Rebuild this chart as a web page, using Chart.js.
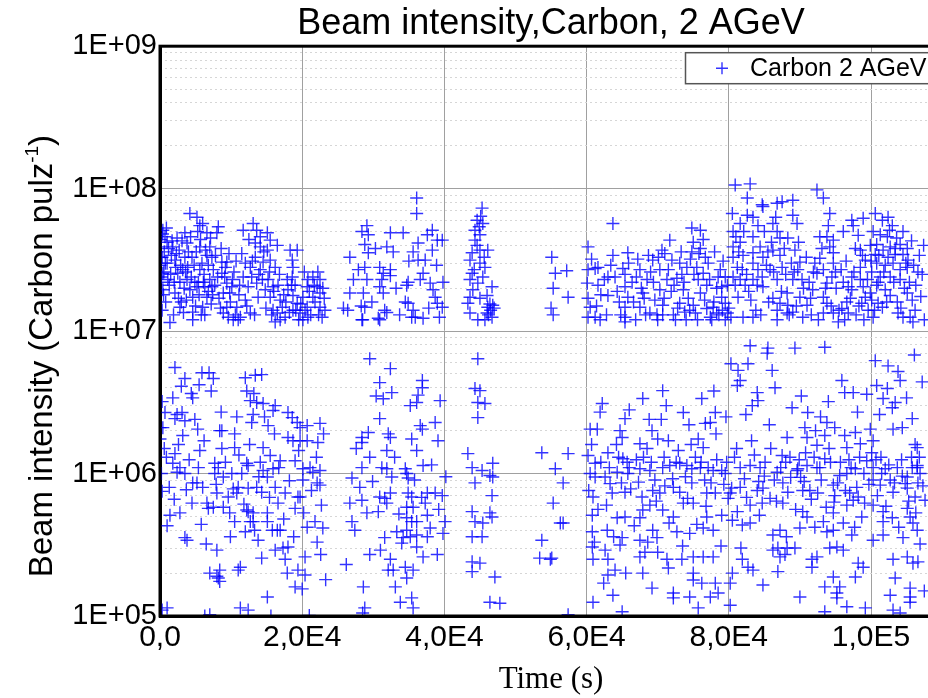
<!DOCTYPE html>
<html lang="en">
<head>
<meta charset="UTF-8">
<title>Beam intensity,Carbon, 2 AGeV</title>
<script src="https://cdn.jsdelivr.net/npm/chart.js"></script>
<style>
  html, body { margin: 0; padding: 0; background: #fff; overflow: hidden; }
  #wrap { width: 950px; height: 698px; }
</style>
</head>
<body>
<div id="wrap"><canvas id="beamChart" width="950" height="698"></canvas></div>
<script>
// axis ticks
const xTickValues = [0, 20000, 40000, 60000, 80000, 100000];
const xTickLabels = ['0,0', '2,0E4', '4,0E4', '6,0E4', '8,0E4', '1,0E5'];
const yTickValues = [1e5, 1e6, 1e7, 1e8, 1e9];
const yTickLabels = ['1E+05', '1E+06', '1E+07', '1E+08', '1E+09'];

// [time (s), intensity (Carbon / pulse)], one array per run
const run1Upper = [
  [400,5.1e7],[700,4.6e7],[1000,4.2e7],[300,3.3e7],[1000,3.0e7],[400,2.55e7],[1100,2.3e7],[400,1.95e7],[300,1.4e7],[1400,1.15e7],
  [1800,3.9e7],[2400,4.5e7],[2100,3.15e7],[2500,2.55e7],[2800,2.2e7],[2100,1.85e7],[2800,1.47e7],[3500,4.9e7],[3800,4.15e7],[3500,3.3e7],
  [3200,2.7e7],[3800,2.3e7],[4200,1.95e7],[4600,1.73e7],[4600,1.2e7],[4200,6.7e7],[5200,6.3e7],[5600,5.5e7],[6000,5.7e7],[5300,5.0e7],
  [6600,4.9e7],[8200,5.4e7],[8000,4.9e7],[5600,3.9e7],[6600,3.4e7],[7000,3.9e7],[7300,3.3e7],[5900,3.0e7],[5600,2.7e7],[7000,2.3e7],
  [6300,2.05e7],[5200,2.05e7],[6600,1.73e7],[6000,1.47e7],[6300,1.3e7],[4600,1.36e7],[7300,2.05e7],[7500,2.7e7],[8700,3.05e7],[9400,3.05e7],
  [8700,2.55e7],[9400,2.17e7],[8900,1.85e7],[9800,1.85e7],[10100,2.05e7],[9400,1.47e7],[8900,1.34e7],[9600,1.25e7],[10300,1.2e7],[11000,1.2e7],
  [11300,1.25e7],[10800,1.47e7],[11700,5.1e7],[12000,3.0e7],[12700,2.8e7],[11700,2.4e7],[12400,2.05e7],[12000,1.65e7],[12700,1.34e7],[13100,5.7e7],
  [13600,5.1e7],[14100,4.6e7],[13400,4.15e7],[14100,3.9e7],[13400,3.3e7],[14500,3.05e7],[14100,2.7e7],[13600,2.17e7],[13800,1.73e7],[14800,1.95e7],
  [15100,4.9e7],[15500,4.35e7],[15100,3.7e7],[15500,3.15e7],[16200,2.8e7],[16500,4.0e7],[15200,2.3e7],[15900,2.05e7],[15500,1.73e7],[15900,1.4e7],
  [16500,1.34e7],[16900,1.65e7],[17200,1.47e7],[17600,1.25e7],[16900,1.2e7],[16200,1.16e7],[18300,3.7e7],[19300,3.7e7],[18600,3.15e7],[18700,2.8e7],
  [18600,2.4e7],[17900,2.3e7],[18000,1.95e7],[18700,1.78e7],[19300,1.57e7],[18700,1.4e7],[19700,1.34e7],[20100,1.2e7],[20700,1.47e7],[20100,1.73e7],
  [20700,2.05e7],[20800,2.3e7],[21500,2.4e7],[22200,2.6e7],[22500,2.3e7],[22100,2.05e7],[22500,1.85e7],[21500,1.73e7],[22500,1.47e7],[20800,1.25e7],
  [200,2.4e7],[600,3.6e7],[800,1.6e7],[1300,2.1e7],[1600,3.4e7],[1900,1.3e7],[2200,2.8e7],[2700,3.7e7],[3000,1.6e7],[3300,1.35e7],
  [3600,2.6e7],[4000,3.6e7],[4400,2.4e7],[4800,2.9e7],[5000,1.5e7],[5400,2.2e7],[5800,1.3e7],[6200,2.5e7],[6800,1.9e7],[7200,1.55e7],
  [7700,2.1e7],[8300,1.7e7],[8600,3.8e7],[9100,2.4e7],[9900,1.6e7],[10400,2.6e7],[10600,1.3e7],[11100,1.8e7],[11500,3.5e7],[12200,1.5e7],
  [12900,2.4e7],[13300,1.3e7],[14400,2.3e7],[14900,1.45e7],[15700,1.3e7],[16600,2.1e7],[17400,1.8e7],[18200,1.35e7],[19000,2.1e7],[19500,1.2e7],
  [20400,1.4e7],[21200,1.3e7],[21800,1.6e7],[22800,1.25e7],[23100,1.7e7],[0,3.9e7],[0,2.9e7],[100,2.2e7],[100,4.4e7],[500,1.8e7],
  [150,3.3e7],[350,4.8e7],[550,2.6e7],[750,3.0e7],[900,5.3e7],[1200,3.8e7],[1500,2.5e7],[1700,4.3e7],[2000,2.2e7],[2300,3.5e7],
  [2600,1.7e7],[2900,2.9e7],[3100,4.3e7],[3400,2.0e7],[3700,1.65e7],[3900,2.8e7],[4300,4.6e7],[4500,3.3e7],[4900,2.2e7],[5100,3.6e7],
  [5500,1.8e7],[5700,4.4e7],[6100,2.2e7],[6400,3.7e7],[6800,2.9e7],[7100,4.5e7],[7400,1.8e7],[7800,3.4e7],[8100,2.4e7],[8500,1.45e7],
  [9200,2.8e7],[9700,3.5e7],[10200,2.3e7],[10700,3.1e7],[11200,2.1e7],[12500,4.4e7],[13000,3.1e7],[13900,2.5e7],[14600,3.6e7],[15400,2.6e7],
  [16000,1.9e7],[16800,2.5e7],[17700,1.6e7],[18500,2.1e7],[19100,1.4e7],[19800,1.55e7],[20300,2.6e7],[21000,1.9e7],[21700,2.1e7],[22300,1.3e7],
  [22900,2.0e7],[23200,1.4e7]
];
const run1Lower = [
  [2100,5.55e6],[3500,4.65e6],[5900,5.1e6],[6900,5.1e6],[7500,4.65e6],[5500,4.2e6],[4400,3.65e6],[4600,3.4e6],[1800,3.4e6],[12000,4.7e6],
  [13400,4.9e6],[14300,4.95e6],[12200,3.8e6],[13200,3.65e6],[13600,3.15e6],[12700,3.25e6],[14500,3.1e6],[16200,3.0e6],[15900,2.77e6],[18000,2.68e6],
  [18600,2.47e6],[19300,2.28e6],[19700,2.1e6],[20700,2.17e6],[22500,2.25e6],[700,2.68e6],[2400,2.6e6],[3100,2.68e6],[2100,2.43e6],[3500,2.35e6],
  [400,2.1e6],[5300,2.05e6],[8700,2.0e6],[10500,1.9e6],[10800,2.5e6],[13100,2.6e6],[12900,2.28e6],[15200,2.17e6],[18000,1.79e6],[19700,1.7e6],
  [20700,1.7e6],[22200,1.65e6],[18700,1.7e6],[14500,1.52e6],[10500,1.52e6],[8700,1.5e6],[8400,2.0e6],[5600,1.45e6],[3200,1.85e6],[2100,1.38e6],
  [1800,1.18e6],[2800,1.1e6],[3500,1.0e6],[2400,1.02e6],[4600,8.6e5],[5200,8.6e5],[6000,8.0e5],[7700,1.18e6],[8200,1.1e6],[7700,1.0e6],
  [8900,9.45e5],[10100,1.0e6],[11500,1.0e6],[12200,1.18e6],[10800,7.3e5],[11000,8.0e5],[12400,7.9e5],[8000,7.3e5],[9600,6.85e5],[8900,5.8e5],
  [9800,5.3e5],[7500,5.8e5],[6800,5.7e5],[1400,5.1e5],[2800,5.3e5],[4500,6.2e5],[6600,6.2e5],[12200,5.55e5],[12400,5.4e5],[13100,5.3e5],
  [12700,4.6e5],[13100,4.6e5],[15100,5.3e5],[15100,4.6e5],[15800,4.0e5],[16500,4.0e5],[16900,4.0e5],[12000,3.9e5],[10500,4.6e5],[14500,1.05e6],
  [15900,1.08e6],[16200,8.0e5],[16600,6.2e5],[17600,7.3e5],[19400,6.85e5],[19000,5.7e5],[15500,1.34e6],[14100,1.2e6],[12400,1.14e6],[3800,3.4e5],
  [3500,3.55e5],[8000,2.9e5],[13800,3.4e5],[14300,2.55e5],[16200,2.9e5],[17300,3.0e5],[18000,3.05e5],[17600,2.5e5],[17900,2.0e5],[19400,2.1e5],
  [20400,1.94e5],[19000,1.6e5],[15100,1.36e5],[7000,2.0e5],[8400,2.1e5],[8200,1.85e5],[11000,2.1e5],[11300,2.2e5],[1000,1.14e5],[11300,1.14e5],
  [12400,1.1e5],[20400,2.6e5],[20700,4.2e5],[21800,4.6e5],[22100,3.3e5],[22900,4.15e5],[20100,1.08e6],[21100,1.1e6],[21500,1.02e6],[22500,1.05e6],
  [22100,8.6e5],[22500,8.3e5],[20100,9.0e5],[19700,6.85e5],[19000,1.23e6],[16900,1.23e6],[15100,9.45e5],[14300,7.4e5],[13600,8.0e5],[0,2.1e6],
  [200,1.0e6],[0,1.75e6],[300,1.1e5],[6300,1.0e5],[7000,1.02e5],[15600,1.0e5],[21000,1.01e5],[23300,1.8e5],[22600,2.7e5],[8000,1.9e5],
  [8400,1.75e5],[20000,1.55e5],[300,7.5e5],[1000,4.3e5],[600,1.5e6],
  [300,3.2e6],[900,1.3e6],[1300,8.0e5],[2000,6.6e5],[2600,1.6e6],[3000,4.1e6],[3700,7.7e5],[4100,1.25e6],[4900,2.4e6],[5400,1.1e6],
  [5800,4.4e5],[6200,1.7e6],[6500,3.2e5],[7200,3.8e6],[7900,8.4e5],[8600,2.7e6],[9200,1.2e6],[9900,3.6e5],[10300,7.8e5],[11100,1.35e6],
  [11800,6.1e5],[12600,1.6e6],[13300,4.0e5],[13900,9.5e5],[14700,2.5e6],[15400,6.8e5],[16100,1.9e6],[16700,1.1e6],[17400,4.8e5],[18200,8.9e5],
  [18800,3.6e5],[19500,1.45e6],[20200,5.3e5],[21300,7.6e5],[22000,1.3e6],[22700,6.0e5],[23000,1.9e6]
];
const run2Upper = [
  [26700,3.3e7],[26700,1.85e7],[26400,1.4e7],[28400,5.0e7],[29100,5.5e7],[29300,4.75e7],[28800,4.05e7],[29300,3.55e7],[28800,2.8e7],[29100,2.3e7],
  [28600,1.85e7],[28800,1.47e7],[28400,1.2e7],[30900,2.8e7],[31400,2.55e7],[31200,2.3e7],[30900,2.05e7],[31400,1.85e7],[31600,1.4e7],[30900,1.2e7],
  [32400,4.9e7],[31900,3.9e7],[32800,3.6e7],[32400,2.7e7],[34200,4.9e7],[34700,2.1e7],[34900,1.57e7],[35600,1.4e7],[35400,1.25e7],[36100,8.6e7],
  [36100,6.7e7],[36300,4.15e7],[35600,3.6e7],[36300,3.15e7],[37300,3.15e7],[37000,2.55e7],[38300,5.1e7],[37600,4.75e7],[38300,3.7e7],[39000,4.35e7],
  [39700,4.35e7],[38000,2.17e7],[39800,2.2e7],[38400,1.95e7],[38700,1.73e7],[39000,1.57e7],[39700,1.47e7],[37000,1.23e7],[36600,2.3e7],[25800,1.45e7],
  [28300,1.5e7],[28500,1.2e7],[30700,1.23e7],[31900,1.35e7],[34500,1.6e7],[34900,2.2e7],[35900,1.25e7],[32400,2.45e7],
  [27200,2.3e7],[29800,1.6e7],[30300,3.8e7],[33200,2.0e7],[33700,1.3e7],[35000,3.1e7],[37800,1.45e7],[38900,2.9e7],[39300,1.25e7],[27900,2.7e7]
];
const run2Lower = [
  [29500,6.4e6],[32400,5.45e6],[30900,4.35e6],[32600,3.7e6],[31400,3.35e6],[36900,4.5e6],[36900,4.0e6],[36300,3.55e6],[36100,3.15e6],[35200,3.0e6],
  [39400,3.25e6],[30900,2.43e6],[29300,1.94e6],[28400,1.79e6],[28400,1.65e6],[32100,1.9e6],[32400,1.79e6],[36600,2.17e6],[36900,2.05e6],[35400,1.75e6],
  [38700,2.28e6],[39100,1.7e6],[31900,1.45e6],[36100,1.45e6],[29500,1.3e6],[28400,1.1e6],[31200,1.1e6],[31900,1.08e6],[34500,1.08e6],[37000,1.14e6],
  [34700,1.0e6],[34900,9.3e5],[32600,9.45e5],[27000,9.3e5],[28100,8.0e5],[30900,6.85e5],[31600,6.7e5],[32400,7.3e5],[34900,7.3e5],[35400,6.85e5],
  [37600,7.3e5],[38700,7.3e5],[39700,7.0e5],[28400,6.5e5],[26700,6.2e5],[29100,5.3e5],[30700,5.4e5],[31900,6.2e5],[34700,5.8e5],[35600,5.8e5],
  [37300,6.2e5],[37600,5.1e5],[34700,4.9e5],[35400,4.6e5],[36100,4.6e5],[27000,4.6e5],[27400,4.0e5],[34700,4.0e5],[38000,4.15e5],[39800,3.8e5],
  [31600,3.55e5],[33300,3.9e5],[34200,3.55e5],[35200,3.6e5],[36100,3.7e5],[37600,3.6e5],[34000,3.25e5],[36100,3.05e5],[29500,2.7e5],[32400,2.5e5],
  [32100,2.1e5],[32800,2.1e5],[34500,2.2e5],[35600,2.1e5],[34700,1.85e5],[33100,1.6e5],[28600,1.6e5],[35400,1.34e5],[35600,1.14e5],[28800,1.14e5],
  [28500,1.05e5],[26200,2.3e5],[33800,1.25e5],[39000,2.7e5],[40100,4.6e5],
  [27600,1.5e6],[29900,8.8e5],[30400,3.5e6],[33000,1.3e6],[33600,5.2e5],[35800,9.0e5],[36800,6.8e5],[38200,1.15e6],[39200,5.6e5],[40200,9.5e5],
  [31000,2.9e5],[37000,2.6e5]
];
const run3Upper = [
  [45300,7.3e7],[44600,6.0e7],[45400,5.7e7],[44300,5.1e7],[45000,4.75e7],[44300,4.35e7],[44600,4.0e7],[45000,3.7e7],[43900,3.55e7],[46100,3.7e7],
  [43600,3.15e7],[45000,3.0e7],[45700,2.8e7],[43900,2.55e7],[45400,2.4e7],[43600,2.3e7],[44700,2.17e7],[46700,2.05e7],[44000,1.95e7],[43600,1.73e7],
  [45000,1.7e7],[46000,1.78e7],[43300,1.57e7],[46100,1.47e7],[46800,1.52e7],[43600,1.34e7],[46000,1.34e7],[46700,1.25e7],[44700,1.2e7],[45700,1.2e7],
  [45100,6.4e7],[44900,5.4e7],[46400,1.55e7],[47000,1.45e7],[46200,1.3e7],[46500,1.4e7],[44200,2.7e7],[45600,3.3e7]
];
const run3Lower = [
  [44700,6.4e6],[44300,3.95e6],[45000,3.82e6],[44700,3.15e6],[45700,3.1e6],[44700,2.47e6],[43300,1.38e6],[43900,1.1e6],[45300,1.05e6],[46800,1.18e6],
  [46400,9.7e5],[46800,9.45e5],[44300,8.6e5],[46700,7.0e5],[43900,5.4e5],[44300,4.6e5],[46400,5.3e5],[46700,4.95e5],[45400,4.5e5],[43900,3.6e5],
  [45300,3.6e5],[43900,2.4e5],[45000,2.35e5],[43900,2.05e5],[47100,1.88e5],[46400,1.25e5],[47800,1.23e5]
];
const run5 = [
  [55100,3.3e7],[55600,2.55e7],[57200,2.65e7],[55300,2.0e7],[57400,1.73e7],[55300,1.3e7],[55000,1.45e7],
  [53700,1.4e6],[55600,1.08e6],[55300,6.2e5],[53700,3.4e5],[53400,2.55e5],[55100,2.55e5],[56300,4.5e5],[57400,1.38e6],[56700,8.6e5],
  [56700,4.5e5],[54900,2.5e5],[57400,1.02e5]
];
const run6Upper = [
  [60200,3.9e7],[60200,2.7e7],[61200,2.75e7],[61600,2.8e7],[60100,2.17e7],[61600,2.1e7],[63000,2.4e7],[63000,1.78e7],[60200,1.7e7],[60500,1.47e7],
  [60200,1.25e7],[61200,1.25e7],[63700,5.7e7],[63700,3.4e7],[65800,3.55e7],[65100,2.75e7],[65400,2.5e7],[65400,2.05e7],[65800,1.73e7],[65400,1.47e7],
  [65400,1.25e7],[65400,1.16e7],[67500,2.7e7],[68500,2.3e7],[67900,1.85e7],[67500,1.47e7],[68900,1.34e7],[69300,3.15e7],[70600,3.7e7],[71700,4.35e7],
  [72000,3.15e7],[70300,2.7e7],[71300,2.3e7],[70300,1.95e7],[69600,1.65e7],[70700,1.52e7],[69900,1.3e7],[70700,1.3e7],[72200,1.3e7],[73100,3.0e7],
  [74100,2.8e7],[72700,2.35e7],[73600,1.95e7],[73100,1.57e7],[73800,1.36e7],[74800,5.3e7],[76000,5.1e7],[75000,4.2e7],[74800,3.6e7],[76000,3.8e7],
  [76700,3.3e7],[77100,3.0e7],[75500,2.8e7],[76400,2.55e7],[75700,2.3e7],[76900,2.1e7],[76000,1.85e7],[75000,1.52e7],[74500,1.4e7],[75300,1.34e7],
  [76900,1.44e7],[77800,1.47e7],[78300,1.34e7],[77400,1.25e7],[78300,2.0e7],[79000,2.05e7],[79500,2.4e7],[78800,2.7e7],[79000,1.73e7],[79500,1.57e7],
  [79800,1.34e7],[79500,1.2e7],[80500,6.7e7],[80600,5.0e7],[81600,5.7e7],[80600,3.9e7],[81600,4.2e7],[80600,3.3e7],[81200,2.8e7],[81900,2.7e7],
  [80600,2.4e7],[81600,2.3e7],[80900,2.1e7],[82300,2.1e7],[81300,1.73e7],[82000,1.25e7],[83400,1.25e7],[80900,1.06e8],[83000,1.08e8],[82600,8.6e7],
  [84700,7.7e7],[82600,6.5e7],[83400,6.3e7],[84100,5.5e7],[83400,4.6e7],[84400,3.9e7],[83400,3.55e7],[84800,3.3e7],[83400,3.0e7],[84100,2.7e7],
  [83400,2.3e7],[84700,2.4e7],[84800,2.05e7],[84800,7.5e7],[86800,7.9e7],[87500,8.1e7],[89000,8.3e7],[86200,5.7e7],[86800,5.0e7],[87200,4.5e7],
  [86200,3.7e7],[87200,3.4e7],[87500,2.8e7],[85800,2.7e7],[86800,2.3e7],[86200,1.7e7],[87200,1.57e7],[88200,1.85e7],[88300,1.52e7],[86800,1.4e7],
  [86800,1.2e7],[88200,1.34e7],[89000,1.36e7],[89000,6.5e7],[89600,5.7e7],[88300,4.5e7],[89300,3.7e7],[90000,3.05e7],[89700,2.7e7],[89000,2.3e7],
  [90300,2.3e7],[90000,1.73e7],[91000,1.52e7],[90400,1.25e7],[92400,9.8e7],[93300,8.6e7],[94200,6.7e7],[94000,5.5e7],[92800,4.6e7],[93800,4.6e7],
  [94700,4.35e7],[94200,3.9e7],[94700,3.55e7],[92800,3.25e7],[94700,3.0e7],[93300,2.7e7],[92400,2.55e7],[94500,2.4e7],[93800,2.17e7],[91800,1.95e7],
  [93300,1.73e7],[93800,1.57e7],[93300,1.34e7],[94700,1.34e7],[95400,1.16e7],[95900,1.44e7],[96600,1.6e7],[96800,1.34e7],[96100,5.0e7],[97300,6.0e7],
  [97500,5.5e7],[98200,4.7e7],[98500,3.7e7],[97800,3.8e7],[99200,3.15e7],[98500,2.8e7],[97300,2.4e7],[98500,2.3e7],[96800,2.05e7],[97300,1.95e7],
  [98900,2.05e7],[99200,1.73e7],[98700,1.57e7],[100100,1.65e7],[99600,1.4e7],[98900,6.2e7],[100600,6.7e7],[100300,5.0e7],[101600,6.0e7],[102400,6.3e7],
  [103000,5.5e7],[104500,5.0e7],[101300,4.75e7],[102300,4.6e7],[100800,4.05e7],[101700,3.7e7],[102700,3.9e7],[103400,3.8e7],[104100,4.05e7],[105100,3.8e7],
  [100600,3.45e7],[102400,3.3e7],[103400,3.45e7],[104500,3.45e7],[105200,3.15e7],[100800,3.0e7],[102000,2.9e7],[103100,3.0e7],[104100,2.7e7],[105100,2.8e7],
  [100100,2.6e7],[101300,2.4e7],[102700,2.4e7],[104100,2.3e7],[100800,2.1e7],[102000,1.95e7],[102700,1.78e7],[99900,1.85e7],[101000,1.57e7],[101600,1.47e7],
  [100300,1.25e7],[103800,1.34e7],[104500,1.25e7],[105500,1.25e7],[105900,1.16e7],[105800,1.65e7],[105100,1.85e7],[106800,3.4e7],[107200,2.5e7],[106300,2.1e7],
  [107500,1.2e7],[106000,2.9e7],[61900,1.2e7],[62500,2.3e7],[64300,1.9e7],[64800,1.3e7],[66400,2.2e7],[66900,1.2e7],[67200,3.2e7],[68100,1.7e7],
  [69000,2.6e7],[70000,1.2e7],[71000,3.5e7],[71900,1.9e7],[72500,1.2e7],[73400,2.5e7],[74000,1.2e7],[74600,3.2e7],[75600,1.2e7],[76400,4.4e7],
  [77600,1.2e7],[78000,3.6e7],[78600,1.3e7],[79200,3.1e7],[80000,1.45e7],[82000,3.4e7],[82800,1.9e7],[83800,1.4e7],[85300,2.9e7],[85600,1.6e7],
  [86000,4.2e7],[88000,2.5e7],[88800,3.0e7],[89500,1.5e7],[91300,2.2e7],[91600,1.3e7],[92100,3.0e7],[95100,2.0e7],[95800,2.7e7],[96300,1.2e7],
  [97900,1.3e7],[99000,1.2e7],[99900,4.0e7],[101000,2.2e7],[103700,1.6e7],[104700,2.0e7],
  [60700,3.2e7],[61400,1.5e7],[62000,1.8e7],[62800,1.3e7],[63400,2.9e7],[64000,2.4e7],[64600,1.6e7],[65900,3.0e7],[66600,1.6e7],[67000,2.4e7],
  [67700,2.0e7],[68300,1.3e7],[68700,3.4e7],[69400,2.2e7],[70100,3.3e7],[70900,1.7e7],[71500,2.7e7],[72300,2.1e7],[72800,1.45e7],[73300,3.6e7],
  [73700,2.2e7],[74300,1.7e7],[75100,2.5e7],[75800,3.5e7],[76600,1.65e7],[77300,2.3e7],[77900,1.6e7],[78500,2.4e7],[79100,1.4e7],[79800,2.1e7],
  [80300,1.25e7],[81000,4.6e7],[81400,3.6e7],[82100,5.0e7],[82500,2.5e7],[83100,1.65e7],[84000,2.1e7],[84500,1.3e7],[85000,5.0e7],[85500,3.6e7],
  [86300,2.6e7],[86600,6.3e7],[87400,1.9e7],[87800,3.8e7],[88500,1.3e7],[89200,2.6e7],[89800,4.2e7],[90500,2.0e7],[90900,3.3e7],[91500,1.7e7],
  [91900,2.6e7],[92600,1.2e7],[93100,3.8e7],[93600,2.0e7],[94400,1.5e7],[95000,2.6e7],[95500,1.4e7],[96100,2.2e7],[96500,3.1e7],[97100,1.7e7],
  [97600,2.6e7],[98300,1.5e7],[98800,3.4e7],[99500,2.3e7],[100000,3.1e7],[100500,1.4e7],[101100,3.4e7],[101800,2.6e7],[102200,1.6e7],[102600,5.1e7],
  [103200,2.2e7],[103600,4.5e7],[104200,1.45e7],[104900,3.0e7],[105400,2.2e7],[105700,4.3e7],[106200,1.4e7],[106600,2.6e7],[107000,1.75e7],[107400,4.0e7]
];
const run6Lower = [
  [60500,2.05e6],[61500,2.05e6],[65400,2.43e6],[64700,2.0e6],[65000,1.79e6],[67900,3.36e6],[70700,3.82e6],[76200,3.36e6],[73600,2.68e6],[78100,2.68e6],
  [76700,2.25e6],[77400,2.28e6],[69200,2.0e6],[70000,1.75e6],[71500,1.7e6],[67500,1.62e6],[68500,1.5e6],[75700,1.75e6],[76400,1.52e6],[60200,1.34e6],
  [61200,1.18e6],[63000,1.4e6],[65100,1.27e6],[65700,1.2e6],[64300,1.02e6],[62600,9.45e5],[61200,9.45e5],[60500,1.0e6],[65800,1.0e6],[67500,1.08e6],
  [68900,1.05e6],[70700,1.1e6],[71700,1.14e6],[73100,1.18e6],[74100,1.14e6],[74800,1.08e6],[76000,1.1e6],[77100,1.1e6],[77800,1.05e6],[79000,1.05e6],
  [79500,1.0e6],[81600,1.1e6],[83000,1.14e6],[84400,1.1e6],[86800,1.02e6],[89700,1.08e6],[91000,1.14e6],[92400,1.1e6],[93500,1.27e6],[95600,9.7e5],
  [96600,1.0e6],[97800,1.08e6],[99400,1.23e6],[100300,1.1e6],[102000,1.08e6],[103700,1.1e6],[105100,9.45e5],[106500,1.1e6],[106600,8.6e5],[60900,6.85e5],
  [63600,7.3e5],[65400,7.4e5],[67800,6.85e5],[69300,7.6e5],[70300,7.3e5],[72200,8.0e5],[73100,7.4e5],[74800,8.6e5],[76900,7.3e5],[78100,7.3e5],
  [80200,7.3e5],[79900,6.7e5],[81600,8.0e5],[84000,7.6e5],[84800,7.9e5],[85800,6.7e5],[87600,8.6e5],[88300,7.4e5],[90400,7.6e5],[91400,7.6e5],
  [92500,7.3e5],[94700,8.3e5],[94900,7.0e5],[97000,7.3e5],[97500,6.5e5],[98200,6.85e5],[100300,9.0e5],[101300,8.3e5],[103100,7.4e5],[105100,7.9e5],
  [106200,6.85e5],[60800,5.1e5],[64300,4.9e5],[65400,4.95e5],[67500,4.9e5],[67900,5.55e5],[68900,6.0e5],[70700,5.55e5],[72200,4.95e5],[73600,6.2e5],
  [75000,6.2e5],[76900,4.95e5],[79000,5.1e5],[81200,5.4e5],[83000,6.0e5],[84700,6.2e5],[87600,6.2e5],[90400,5.4e5],[91000,4.95e5],[93300,4.6e5],
  [94700,5.3e5],[96600,6.0e5],[98700,4.95e5],[100300,6.0e5],[101700,5.4e5],[103000,4.9e5],[105100,5.7e5],[105500,4.95e5],[101700,4.6e5],[60800,3.9e5],
  [62900,4.0e5],[65000,3.55e5],[64700,3.15e5],[67500,3.4e5],[69300,4.0e5],[69900,3.55e5],[72700,3.9e5],[74500,3.8e5],[76400,4.15e5],[77800,4.0e5],
  [80500,4.7e5],[81900,4.35e5],[83000,4.5e5],[86200,3.7e5],[87200,4.0e5],[90000,4.15e5],[92100,4.2e5],[93800,3.9e5],[94700,4.0e5],[96100,4.5e5],
  [97300,3.7e5],[100300,3.4e5],[101700,3.7e5],[104500,3.55e5],[105900,4.5e5],[106500,4.0e5],[60800,3.05e5],[62600,2.9e5],[63000,2.5e5],[60900,2.5e5],
  [64000,2.1e5],[63000,1.94e5],[67500,2.6e5],[68200,2.8e5],[70000,2.8e5],[71300,2.5e5],[73400,2.5e5],[75000,2.6e5],[76400,2.6e5],[77800,2.6e5],
  [81900,2.5e5],[82700,2.2e5],[83400,2.1e5],[86200,2.9e5],[86900,3.0e5],[88200,3.0e5],[89300,3.0e5],[87200,2.6e5],[87900,2.7e5],[91700,2.5e5],
  [92400,2.6e5],[94200,3.0e5],[95200,3.05e5],[96100,2.9e5],[98200,2.35e5],[98900,2.2e5],[103100,2.5e5],[105100,2.6e5],[105900,2.35e5],[67900,2.0e5],
  [71500,2.17e5],[75000,2.0e5],[75000,1.79e5],[76200,1.7e5],[78100,1.7e5],[80500,2.0e5],[80200,1.7e5],[84800,1.65e5],[86900,2.05e5],[91700,2.2e5],
  [93500,1.6e5],[94700,1.88e5],[95600,1.6e5],[97800,1.88e5],[103400,1.85e5],[105500,1.57e5],[105500,1.36e5],[60900,1.25e5],[63700,1.4e5],[65000,1.07e5],
  [69200,1.57e5],[72200,1.45e5],[72200,1.34e5],[74500,1.36e5],[77400,1.36e5],[78500,1.45e5],[80200,1.19e5],[90000,1.36e5],[95200,1.34e5],[95200,1.45e5],
  [96600,1.16e5],[99200,1.14e5],[102700,1.4e5],[103100,1.1e5],[105500,1.25e5],[75700,1.14e5],[93500,1.07e5],[104100,1.05e5],[83000,7.9e6],[85500,7.6e6],
  [85400,7.0e6],[89300,7.6e6],[93500,7.7e6],[82700,5.9e6],[81300,5.3e6],[81600,4.5e6],[81200,4.15e6],[86100,5.3e6],[86500,4.0e6],[84000,3.7e6],
  [84100,3.25e6],[83300,3.0e6],[95900,4.5e6],[96300,3.7e6],[97500,3.7e6],[102400,5.7e6],[104100,4.5e6],[100800,4.15e6],[102300,3.95e6],[101700,3.36e6],
  [103400,3.15e6],[103000,2.9e6],[105800,2.43e6],[104400,2.1e6],[103100,2.05e6],[99900,2.05e6],[100300,1.7e6],[106500,1.52e6],[91100,2.68e6],[93800,2.28e6],
  [94900,2.1e6],[90700,2.1e6],[93500,1.85e6],[96300,1.85e6],[97800,1.94e6],[91000,1.79e6],[92400,1.58e6],[96600,1.52e6],[98500,1.62e6],[88200,1.79e6],
  [87500,1.34e6],[89600,1.05e6],[106500,1.14e6],[107200,4.4e6],[106200,1.6e6],[107600,6.5e5],[106900,3.2e5],[106600,2.4e5],[107500,1.5e5],[62000,1.2e6],
  [63300,8.5e5],[64500,1.3e6],[66200,7.8e5],[67000,1.25e6],[69600,9.0e5],[71000,8.2e5],[72600,1.2e6],[73900,9.5e5],[75300,1.3e6],[76600,9.0e5],
  [78300,1.25e6],[79300,8.4e5],[80800,1.3e6],[82200,9.2e5],[83600,1.35e6],[84200,8.8e5],[85100,1.2e6],[86400,9.0e5],[88000,1.2e6],[88700,9.4e5],
  [89900,1.25e6],[90600,8.8e5],[92000,1.3e6],[93000,9.0e5],[94300,1.2e6],[95300,8.6e5],[96900,1.25e6],[98000,8.0e5],[99000,1.0e6],[100700,1.25e6],
  [101500,1.0e6],[102700,9.0e5],[104300,1.25e6],[104800,8.5e5],[105700,1.3e6],[106900,1.0e6],[62200,3.1e6],[66000,2.8e6],[68800,2.4e6],[71200,3.0e6],
  [74400,2.2e6],[77900,3.8e6],[79600,2.5e6],[80300,5.9e6],[82400,2.6e6],[85700,2.2e6],[88900,2.9e6],[90200,3.5e6],[92900,2.5e6],[94000,3.2e6],
  [98100,2.7e6],[99400,3.6e6],[101200,2.6e6],[103800,5.2e6],[105000,3.4e6],[106100,6.8e6],[100600,6.2e6],
  [60300,7.6e5],[60700,1.6e6],[61100,3.3e5],[61600,5.6e5],[61900,2.7e6],[62400,1.7e5],[62800,6.0e5],[63200,1.1e6],[63800,3.6e5],[64200,1.6e6],
  [64900,8.6e5],[65500,2.0e5],[66000,1.1e6],[66700,4.3e5],[67300,8.7e5],[68000,1.3e6],[68600,3.3e5],[69100,1.2e6],[69800,6.4e5],[70500,2.4e6],
  [70900,1.3e6],[71600,4.5e5],[72100,9.2e5],[72900,1.45e6],[73500,3.1e5],[74200,6.7e5],[74700,1.6e6],[75500,4.4e5],[76100,1.2e6],[76800,5.9e5],
  [77500,8.6e5],[78200,1.9e6],[78900,3.1e5],[79700,1.2e6],[80400,7.9e5],[81100,1.5e6],[81700,3.0e5],[82500,6.8e5],[83200,1.7e6],[84300,5.1e5],
  [85000,9.6e5],[85900,1.5e6],[86700,6.4e5],[87300,1.1e6],[88100,3.6e5],[88600,1.3e6],[89400,5.6e5],[90100,9.4e5],[90800,1.4e6],[91600,6.6e5],
  [92200,2.0e6],[92800,1.1e6],[93700,5.8e5],[94100,1.5e6],[94800,6.3e5],[95700,1.2e6],[96400,7.6e5],[97200,1.1e6],[97700,4.2e5],[98400,1.3e6],
  [99100,6.2e5],[99700,8.4e5],[100100,1.4e6],[100900,7.0e5],[101400,1.3e6],[102100,5.9e5],[102500,1.15e6],[103300,8.6e5],[103900,4.2e5],[104400,9.6e5],
  [105300,6.4e5],[105800,1.1e6],[106300,5.3e5],[106800,1.3e6],[107300,8.2e5]
];

const beamPoints = [].concat(run1Upper, run1Lower, run2Upper, run2Lower, run3Upper, run3Lower, run5, run6Upper, run6Lower)
  .map(p => ({ x: p[0], y: p[1] }));

// dotted minor grid lines (2..9 in every decade)
const yMinorValues = [];
for (let e = 5; e < 9; e++) {
  for (let k = 2; k <= 9; k++) yMinorValues.push(k * Math.pow(10, e));
}

const SANS = "'Liberation Sans', Arial, sans-serif";
const markColor = 'rgba(0, 0, 255, 0.8)';

// frame, legend box and the y title with its superscript
const decorations = {
  id: 'decorations',
  afterDraw(chart) {
    const { ctx, chartArea: a } = chart;
    ctx.save();
    ctx.strokeStyle = '#000';
    ctx.lineWidth = 3;
    ctx.strokeRect(a.left, a.top, a.right - a.left, a.bottom - a.top);

    // legend
    const lx = a.left + 525, ly = a.top + 6;
    ctx.fillStyle = '#fff';
    ctx.fillRect(lx, ly, 290, 31);
    ctx.lineWidth = 1.5;
    ctx.strokeStyle = '#555';
    ctx.strokeRect(lx + 0.5, ly + 0.5, 290, 31);
    ctx.strokeStyle = markColor;
    ctx.lineWidth = 1.4;
    ctx.beginPath();
    ctx.moveTo(lx + 31, ly + 16); ctx.lineTo(lx + 43, ly + 16);
    ctx.moveTo(lx + 37, ly + 10); ctx.lineTo(lx + 37, ly + 22);
    ctx.stroke();
    ctx.fillStyle = '#000';
    ctx.font = '25px ' + SANS;
    ctx.textBaseline = 'middle';
    ctx.textAlign = 'left';
    ctx.fillText('Carbon 2 AGeV', lx + 65, ly + 17);

    // y axis title
    const main = 'Beam intensity (Carbon pulz';
    const sup = '-1';
    const close = ')';
    ctx.translate(43, (a.top + a.bottom) / 2 + 25);
    ctx.rotate(-Math.PI / 2);
    ctx.font = '33px ' + SANS;
    const w1 = ctx.measureText(main).width;
    const w3 = ctx.measureText(close).width;
    ctx.font = '19px ' + SANS;
    const w2 = ctx.measureText(sup).width;
    const x0 = -(w1 + w2 + w3) / 2;
    ctx.font = '33px ' + SANS;
    ctx.fillText(main, x0, 0);
    ctx.font = '19px ' + SANS;
    ctx.fillText(sup, x0 + w1, -10);
    ctx.font = '33px ' + SANS;
    ctx.fillText(close, x0 + w1 + w2, 0);
    ctx.restore();
  }
};

new Chart(document.getElementById('beamChart').getContext('2d'), {
  type: 'scatter',
  data: {
    datasets: [{
      label: 'Carbon 2 AGeV',
      data: beamPoints,
      pointStyle: 'cross',
      pointRadius: 6.5,
      pointHoverRadius: 6.5,
      pointBorderWidth: 1.4,
      borderColor: markColor,
      backgroundColor: markColor
    }]
  },
  options: {
    responsive: false,
    animation: false,
    layout: { padding: 0 },
    plugins: {
      legend: { display: false },
      tooltip: { enabled: false },
      title: {
        display: true,
        fullSize: false,
        text: 'Beam intensity,Carbon, 2 AGeV',
        color: '#000',
        font: { family: SANS, size: 36, weight: 'normal', lineHeight: 1.2 },
        padding: { top: 2, bottom: 1 }
      }
    },
    scales: {
      x: {
        type: 'linear',
        min: 0,
        max: 110000,
        afterBuildTicks: s => { s.ticks = xTickValues.map(v => ({ value: v })); },
        afterFit: s => { s.height = 82; },
        ticks: {
          callback: (v, i) => xTickLabels[i],
          color: '#000',
          font: { family: SANS, size: 30 },
          padding: 4,
          maxRotation: 0,
          autoSkip: false
        },
        grid: { color: '#a0a0a0', drawTicks: false },
        border: { color: '#000', width: 3 },
        title: {
          display: true,
          text: 'Time (s)',
          color: '#000',
          font: { family: "'Liberation Serif', 'Times New Roman', serif", size: 31 },
          padding: { top: 0, bottom: 0 }
        }
      },
      y: {
        type: 'logarithmic',
        position: 'left',
        min: 1e5,
        max: 1e9,
        afterBuildTicks: s => { s.ticks = yTickValues.map(v => ({ value: v })); },
        afterFit: s => { s.width = 160; },
        ticks: {
          callback: (v, i) => yTickLabels[i],
          color: '#000',
          font: { family: SANS, size: 29 },
          padding: 3,
          autoSkip: false
        },
        grid: { color: '#a0a0a0', drawTicks: false },
        border: { color: '#000', width: 3 }
      },
      yMinor: {
        type: 'logarithmic',
        position: 'left',
        min: 1e5,
        max: 1e9,
        afterBuildTicks: s => { s.ticks = yMinorValues.map(v => ({ value: v })); },
        afterFit: s => { s.width = 0; },
        ticks: { display: false },
        grid: { color: '#d6d6d6', drawTicks: false },
        border: { display: false, dash: [2, 3] }
      }
    }
  },
  plugins: [decorations]
});
</script>
</body>
</html>
